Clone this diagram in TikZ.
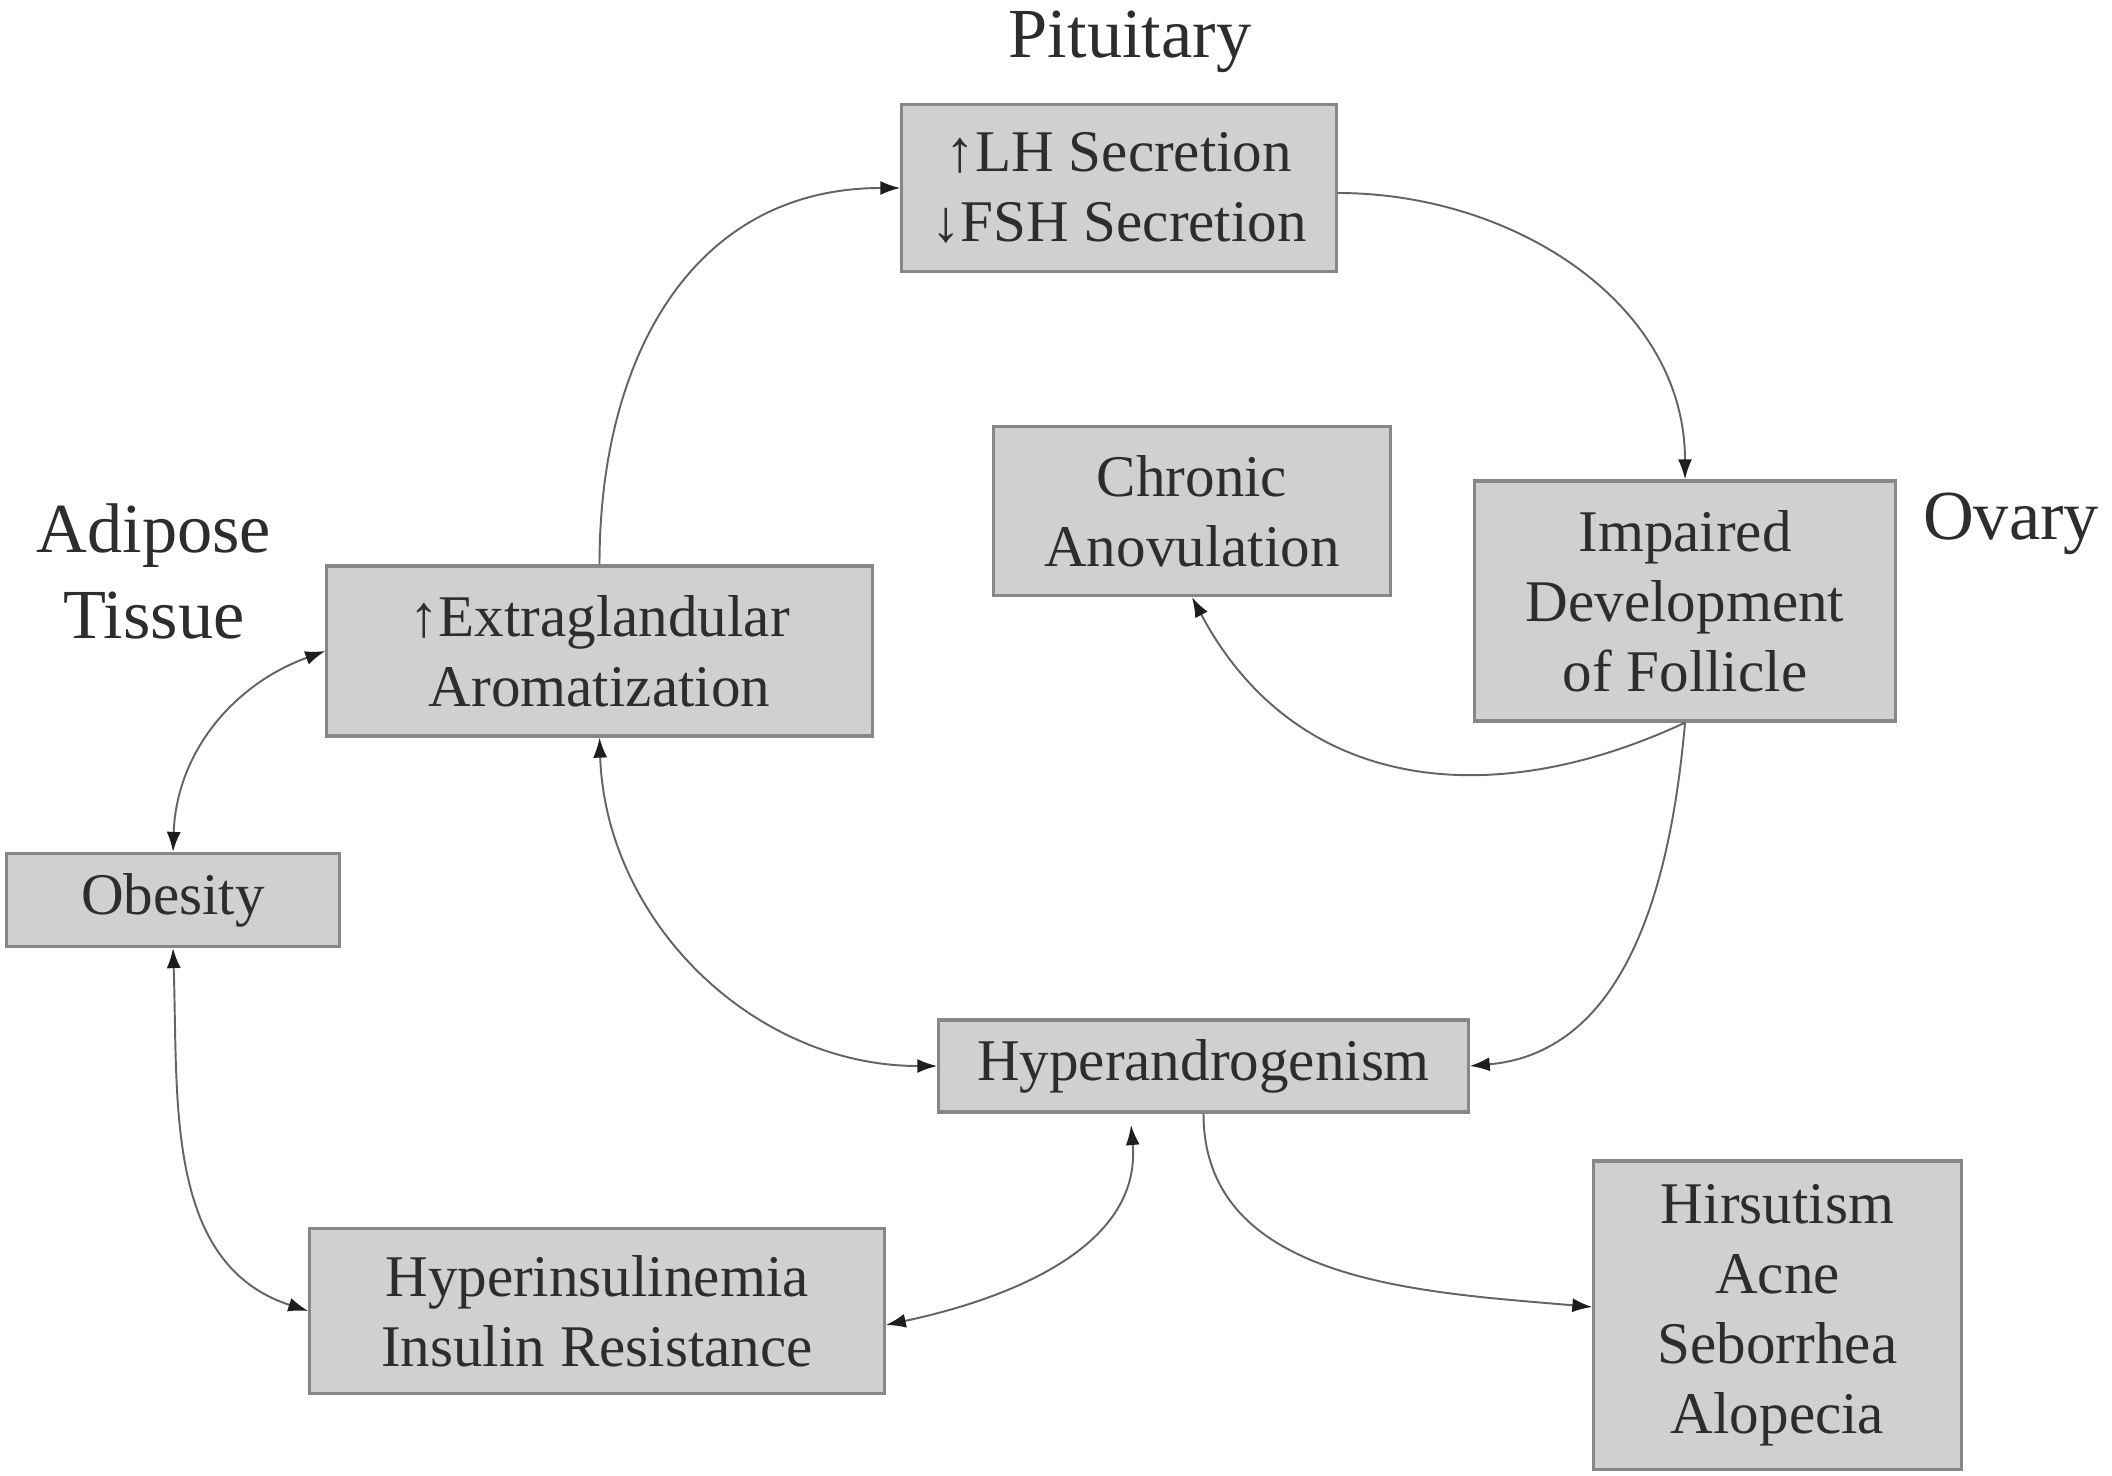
\documentclass[tikz,border=0pt]{standalone}
\usepackage{fontspec}
\setmainfont{Liberation Serif}
\usetikzlibrary{arrows.meta}
\definecolor{boxfill}{RGB}{208,208,208}
\definecolor{boxdraw}{RGB}{135,135,135}
\definecolor{txtc}{RGB}{45,45,45}
\definecolor{connc}{RGB}{100,100,100}
\definecolor{tipc}{RGB}{30,30,30}
\tikzset{
  box/.style={draw=boxdraw, fill=boxfill, line width=0.9pt, inner sep=0pt,
    align=center, text=txtc, font=\fontsize{16.8}{19.9}\selectfont},
  lbl/.style={anchor=base, align=center, text=txtc, font=\fontsize{20}{24.2}\selectfont},
  tip/.style={Latex[length=0.2cm,width=0.14cm,color=tipc]},
  conn/.style={draw=connc, line width=0.55pt, -{Latex[length=0.2cm,width=0.14cm,color=tipc]}},
  biconn/.style={draw=connc, line width=0.55pt, {Latex[length=0.2cm,width=0.14cm,color=tipc]}-{Latex[length=0.2cm,width=0.14cm,color=tipc]}}
}
\begin{document}
\begin{tikzpicture}[x=0.01cm,y=-0.01cm]
\useasboundingbox (0,0) rectangle (2112,1476);
% boxes
\node[box, minimum width=4.34cm, minimum height=1.67cm] (lh) at (1119,188) {↑LH Secretion\\↓FSH Secretion};
\node[box, minimum width=3.96cm, minimum height=1.69cm] (chronic) at (1192,511) {Chronic\\Anovulation};
\node[box, minimum width=4.20cm, minimum height=2.40cm] (impaired) at (1685,601) {Impaired\\Development\\of Follicle};
\node[box, minimum width=5.45cm, minimum height=1.70cm] (extra) at (599.5,651) {↑Extraglandular\\Aromatization};
\node[box, minimum width=3.32cm, minimum height=0.93cm] (obesity) at (173,900) {Obesity};
\node[box, minimum width=5.29cm, minimum height=0.92cm] (hyper) at (1203.5,1066) {Hyperandrogenism};
\node[box, minimum width=5.74cm, minimum height=1.65cm] (hyperins) at (597,1311) {Hyperinsulinemia\\Insulin Resistance};
\node[box, minimum width=3.67cm, minimum height=3.08cm] (hirs) at (1777.5,1315) {Hirsutism\\Acne\\Seborrhea\\Alopecia};
% labels
\node[lbl] (pit) at (1130,58) {Pituitary};
\node[lbl] (adi) at (154,638) {Adipose\\Tissue};
\node[lbl] (ova) at (2011,539) {Ovary};
\coordinate (hb) at (1131,1125);
% connectors
\draw[conn] (extra.north) to[out=90,in=180,looseness=1.1] (lh.west);
\draw[conn] ([yshift=-0.05cm]lh.east) to[out=0,in=90] (impaired.north);
\draw[conn] (impaired.south) to[out=-155,in=-62,looseness=1.1] (chronic.south);
\draw[conn] (impaired.south) to[out=-95,in=5] (hyper.east);
\draw[biconn] (extra.south) to[out=-88,in=180] (hyper.west);
\draw[biconn] (obesity.north) to[out=88,in=200] (extra.west);
\draw[biconn] (obesity.south) to[out=-88,in=162] (hyperins.west);
\draw[biconn] ([yshift=-0.14cm]hyperins.east) to[out=12,in=-85] (hb);
\draw[conn] (hyper.south) to[out=-90,in=175] ([yshift=0.08cm]hirs.west);
\end{tikzpicture}
\end{document}
